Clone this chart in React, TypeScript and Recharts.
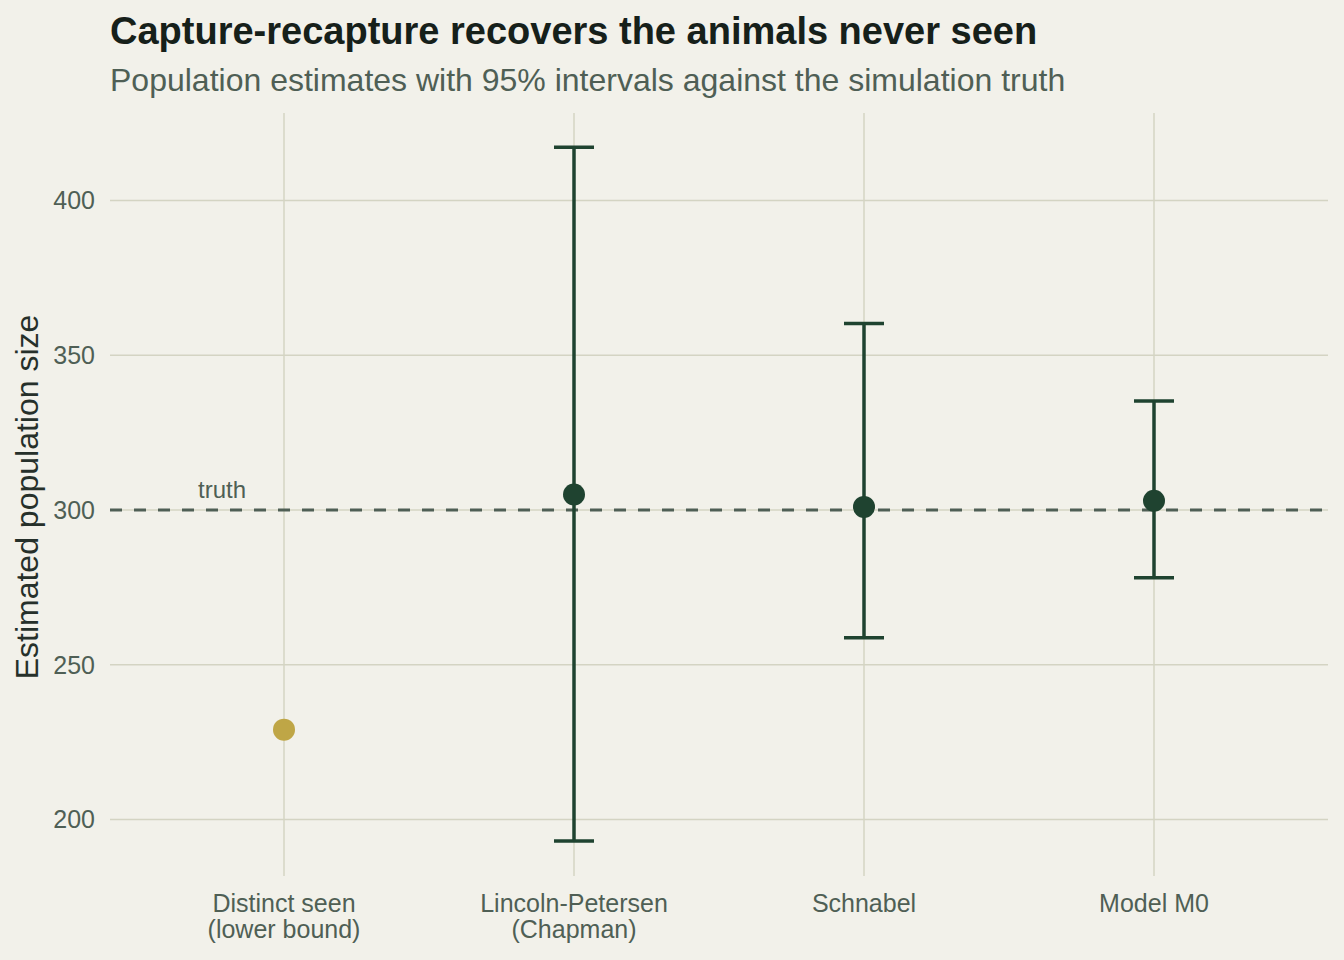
import React from 'react';
import {
  ComposedChart, Scatter, ErrorBar, XAxis, YAxis, CartesianGrid, ReferenceLine,
} from 'recharts';

const methods = ['Distinct seen\n(lower bound)', 'Lincoln-Petersen\n(Chapman)', 'Schnabel', 'Model M0'];
const estimates = [229, 305, 301, 303];
const lowerCI = [null, 193, 258.7, 278.1];
const upperCI = [null, 417.2, 360.3, 335.2];
const xTicks = [1, 2, 3, 4];
const yTicks = [200, 250, 300, 350, 400];
const TRUTH = 300;

const X_DOMAIN = [0.4, 4.6];
const Y_DOMAIN = [181.7, 428.3];

const BG = '#f2f1ea';
const GRID = '#d4d4c3';
const DARK = '#1f4330';
const GOLD = '#bfa646';
const MUTED = '#4f5f55';
const FONT = '"Liberation Sans", Arial, sans-serif';

// the raw count has no interval, so it gets its own series without error bars
const seenData = [{ x: 1, y: estimates[0] }];
const estData = estimates.slice(1).map((v, i) => ({
  x: i + 2,
  y: v,
  err: [v - (lowerCI[i + 1] as number), (upperCI[i + 1] as number) - v],
}));

const Dot = (color: string) => (p: any) => <circle cx={p.cx} cy={p.cy} r={11} fill={color} />;

// grid only at the tick values, no frame around the panel
const vGrid = ({ xAxis, offset }: any) =>
  xTicks.map(t =>
    typeof xAxis?.scale === 'function'
      ? xAxis.scale(t)
      : offset.left + ((t - X_DOMAIN[0]) / (X_DOMAIN[1] - X_DOMAIN[0])) * offset.width,
  );
const hGrid = ({ yAxis, offset }: any) =>
  yTicks.map(t =>
    typeof yAxis?.scale === 'function'
      ? yAxis.scale(t)
      : offset.top + ((Y_DOMAIN[1] - t) / (Y_DOMAIN[1] - Y_DOMAIN[0])) * offset.height,
  );

const MethodTick = (props: any) => {
  const { x, y, payload } = props;
  const lines = methods[payload.value - 1].split('\n');
  return (
    <text x={x} y={y} textAnchor="middle" fill={MUTED} fontSize={25} fontFamily={FONT}>
      {lines.map((l, i) => (
        <tspan key={i} x={x} y={y + 36 + i * 26}>{l}</tspan>
      ))}
    </text>
  );
};

const TruthLabel = (props: any) => {
  const { viewBox } = props;
  return (
    <text x={viewBox.x + 112} y={viewBox.y - 12} textAnchor="middle" fill={MUTED} fontSize={24} fontFamily={FONT}>
      truth
    </text>
  );
};

export default function App() {
  return (
    <div style={{ position: 'absolute', left: 0, top: 0, width: 1344, height: 960, background: BG }}>
      <ComposedChart width={1344} height={960} margin={{ top: 113, right: 16, bottom: 0, left: 10 }}>
        <CartesianGrid stroke={GRID} strokeWidth={1.5} verticalCoordinatesGenerator={vGrid} horizontalCoordinatesGenerator={hGrid} />
        <XAxis
          type="number" dataKey="x" domain={X_DOMAIN} ticks={xTicks}
          axisLine={false} tickLine={false} tickSize={0} tickMargin={0} height={84}
          tick={<MethodTick />} allowDataOverflow
        />
        <YAxis
          type="number" dataKey="y" domain={Y_DOMAIN} ticks={yTicks}
          axisLine={false} tickLine={false} tickSize={0} tickMargin={15} width={100}
          tick={{ fill: MUTED, fontSize: 25, fontFamily: FONT }} allowDataOverflow
        />
        <ReferenceLine y={TRUTH} stroke={MUTED} strokeWidth={3} strokeDasharray="12 12" label={<TruthLabel />} />
        <Scatter data={seenData} fill={GOLD} shape={Dot(GOLD)} isAnimationActive={false} />
        <Scatter data={estData} fill={DARK} shape={Dot(DARK)} isAnimationActive={false}>
          <ErrorBar dataKey="err" direction="y" width={20} stroke={DARK} strokeWidth={3.5} isAnimationActive={false} />
        </Scatter>
      </ComposedChart>
      <svg width={1344} height={120} style={{ position: 'absolute', left: 0, top: 0, pointerEvents: 'none' }} fontFamily={FONT}>
        <text x={110} y={44} fontSize={38} fontWeight={700} fill="#16201a">
          Capture-recapture recovers the animals never seen
        </text>
        <text x={110} y={91} fontSize={32} fill={MUTED}>
          Population estimates with 95% intervals against the simulation truth
        </text>
      </svg>
      <svg width={60} height={960} style={{ position: 'absolute', left: 0, top: 0, pointerEvents: 'none' }} fontFamily={FONT}>
        <text x={38} y={497} transform="rotate(-90 38 497)" textAnchor="middle" fontSize={32} fill="#26302a">
          Estimated population size
        </text>
      </svg>
    </div>
  );
}
